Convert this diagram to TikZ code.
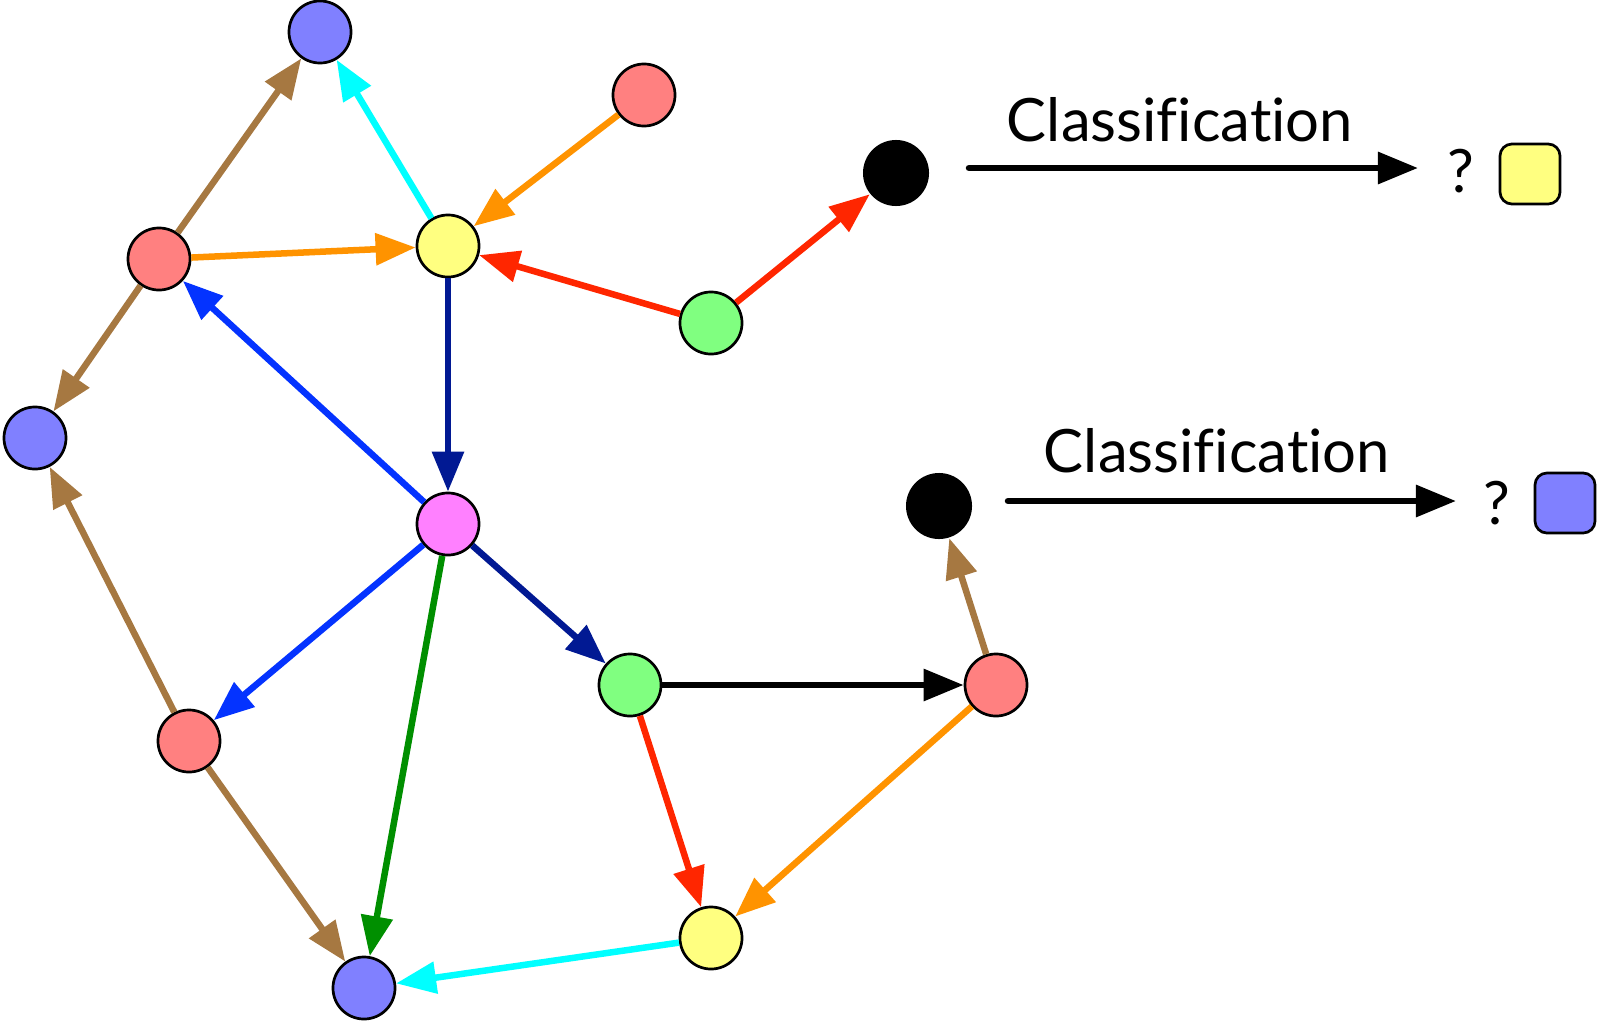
\documentclass[tikz,border=0pt]{standalone}
\usepackage{fontspec}
\setmainfont{Lato}[Ligatures=NoCommon]
\usetikzlibrary{arrows.meta}

% vertex fills
\definecolor{vred}{HTML}{FF8080}
\definecolor{vblue}{HTML}{8080FF}
\definecolor{vyellow}{HTML}{FFFF80}
\definecolor{vgreen}{HTML}{80FF80}
\definecolor{vmagenta}{HTML}{FF80FF}
% edge colours
\definecolor{eBrown}{HTML}{A67841}
\definecolor{eCyan}{HTML}{00FFFF}
\definecolor{eOrange}{HTML}{FF9300}
\definecolor{eRed}{HTML}{FF2600}
\definecolor{eBlue}{HTML}{0433FF}
\definecolor{eNavy}{HTML}{011993}
\definecolor{eGreen}{HTML}{008F00}

\begin{document}
\begin{tikzpicture}[x=0.01cm,y=-0.01cm,
  vertex/.style={circle,draw=black,line width=0.77pt,minimum size=0.62cm,inner sep=0pt},
  sink/.style={circle,fill=black,minimum size=0.66cm,inner sep=0pt},
  label box/.style={rectangle,rounded corners=3.4pt,draw=black,line width=0.77pt,minimum size=0.60cm,inner sep=0pt},
  link/.style={line width=1.85pt,-{Triangle[length=11.4pt,width=8.8pt]}},
  caption/.style={anchor=base,font=\fontsize{17}{20}\selectfont,inner sep=0pt},
]
\useasboundingbox (0,0) rectangle (1600,1024);

% vertices
\node[vertex,fill=vblue]    (bt) at (320,32)  {};
\node[vertex,fill=vred]     (rt) at (644,95)  {};
\node[vertex,fill=vred]     (rl) at (159,259) {};
\node[vertex,fill=vyellow]  (yt) at (448,246) {};
\node[vertex,fill=vgreen]   (gt) at (711,323) {};
\node[sink]                 (k1) at (896,173) {};
\node[vertex,fill=vblue]    (bl) at (35,438)  {};
\node[vertex,fill=vmagenta] (mg) at (448,524) {};
\node[sink]                 (k2) at (939,506) {};
\node[vertex,fill=vgreen]   (gm) at (630,685) {};
\node[vertex,fill=vred]     (rr) at (996,685) {};
\node[vertex,fill=vred]     (rb) at (189,741) {};
\node[vertex,fill=vyellow]  (yb) at (711,938) {};
\node[vertex,fill=vblue]    (bb) at (364,988) {};

% directed edges
\draw[link,eBrown]  (rl) -- (bt);
\draw[link,eCyan]   (yt) -- (bt);
\draw[link,eOrange] (rt) -- (yt);
\draw[link,eOrange] (rl) -- (yt);
\draw[link,eRed]    (gt) -- (yt);
\draw[link,eRed]    (gt) -- (k1);
\draw[link,eNavy]   (yt) -- (mg);
\draw[link,eBlue]   (mg) -- (rl);
\draw[link,eBrown]  (rl) -- (bl);
\draw[link,eBrown]  (rb) -- (bl);
\draw[link,eBlue]   (mg) -- (rb);
\draw[link,eGreen]  (mg) -- (bb);
\draw[link,eNavy]   (mg) -- (gm);
\draw[link,black]   (gm) -- (rr);
\draw[link,eBrown]  (rr) -- (k2);
\draw[link,eRed]    (gm) -- (yb);
\draw[link,eOrange] (rr) -- (yb);
\draw[link,eCyan]   (yb) -- (bb);
\draw[link,eBrown]  (rb) -- (bb);

% classification of the first unlabelled vertex
\coordinate (c1s) at (969,168);
\coordinate (c1e) at (1418,168);
\draw[link,black,line cap=round] (c1s) -- (c1e);
\node[caption] (t1) at (1180,141) {Classification};
\node[caption] (q1) at (1461,192) {?};
\node[label box,fill=vyellow] (s1) at (1530,174) {};

% classification of the second unlabelled vertex
\coordinate (c2s) at (1008,501);
\coordinate (c2e) at (1456,501);
\draw[link,black,line cap=round] (c2s) -- (c2e);
\node[caption] (t2) at (1217,472) {Classification};
\node[caption] (q2) at (1497,524) {?};
\node[label box,fill=vblue] (s2) at (1565,503) {};
\end{tikzpicture}
\end{document}
